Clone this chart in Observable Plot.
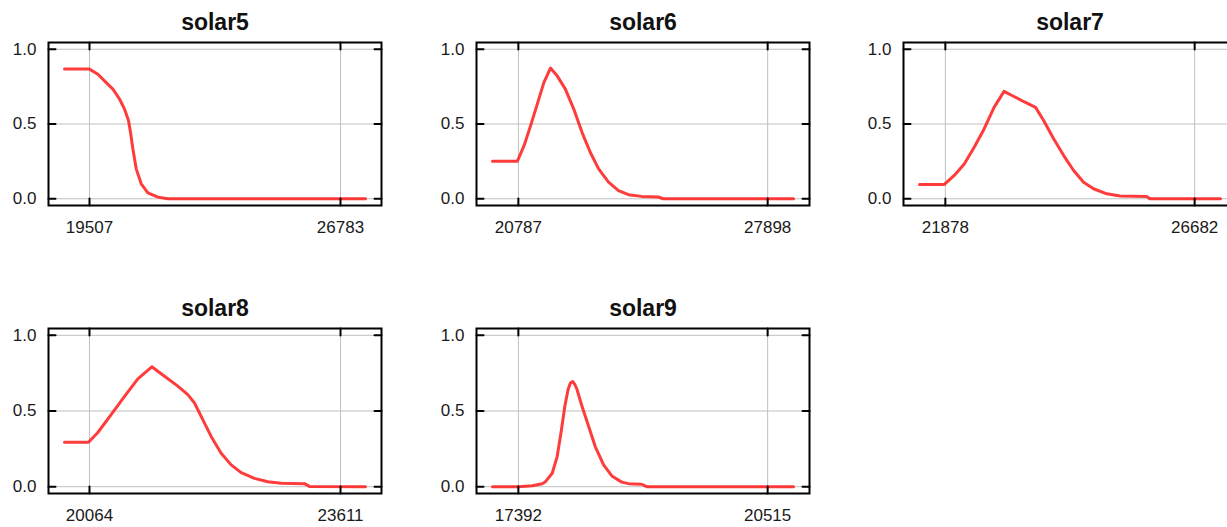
<!DOCTYPE html>
<html><head><meta charset="utf-8">
<script src="https://cdn.jsdelivr.net/npm/d3@7"></script>
<script src="https://cdn.jsdelivr.net/npm/@observablehq/plot@0.6"></script>
<style>
html,body{margin:0;padding:0;background:#fff;overflow:hidden;width:1227px;height:527px;}
#chart{position:relative;width:1227px;height:527px;overflow:hidden;}
#chart svg{position:absolute;}
</style></head><body><div id="chart"></div>
<script>
const names = ["solar5", "solar6", "solar7", "solar8", "solar9"];

const solar5X = [18782, 19507, 19750, 19991, 20185, 20377, 20522, 20638, 20696, 20765, 20861, 21006, 21200, 21490, 21780, 27508];
const solar5Y = [0.867, 0.867, 0.833, 0.777, 0.733, 0.667, 0.6, 0.522, 0.444, 0.333, 0.2, 0.1, 0.04, 0.011, 0.0, 0.0];

const solar6X = [20049, 20759, 20949, 21136, 21326, 21516, 21703, 21893, 22128, 22367, 22602, 22837, 23076, 23359, 23643, 23926, 24303, 24777, 24919, 28635];
const solar6Y = [0.251, 0.251, 0.355, 0.489, 0.633, 0.778, 0.874, 0.822, 0.733, 0.6, 0.444, 0.311, 0.2, 0.111, 0.055, 0.027, 0.016, 0.012, 0.0, 0.0];

const solar7X = [21380, 21859, 22050, 22242, 22434, 22625, 22817, 23009, 23200, 23392, 23616, 23775, 23967, 24159, 24350, 24542, 24734, 24989, 25245, 25756, 25819, 27180];
const solar7Y = [0.096, 0.096, 0.156, 0.233, 0.344, 0.467, 0.611, 0.718, 0.684, 0.649, 0.611, 0.522, 0.4, 0.289, 0.189, 0.111, 0.067, 0.033, 0.018, 0.016, 0.0, 0.0];

const solar8X = [19711, 20050, 20182, 20370, 20559, 20747, 20945, 21124, 21312, 21453, 21548, 21642, 21783, 21924, 22066, 22207, 22395, 22584, 22772, 23102, 23173, 23964];
const solar8Y = [0.294, 0.294, 0.358, 0.476, 0.597, 0.712, 0.792, 0.730, 0.664, 0.608, 0.553, 0.465, 0.332, 0.221, 0.144, 0.093, 0.055, 0.033, 0.022, 0.020, 0.002, 0.0];

const solar9X = [17068, 17392, 17566, 17691, 17732, 17816, 17878, 17932, 17974, 18015, 18044, 18073, 18100, 18127, 18189, 18273, 18355, 18460, 18563, 18688, 18771, 18937, 19000, 20839];
const solar9Y = [0.0, 0.0, 0.006, 0.02, 0.033, 0.089, 0.199, 0.376, 0.531, 0.642, 0.685, 0.695, 0.675, 0.642, 0.531, 0.398, 0.265, 0.144, 0.071, 0.03, 0.02, 0.016, 0.0, 0.0];

const xTickValues = [[19507, 26783], [20787, 27898], [21878, 26682], [20064, 23611], [17392, 20515]];
const yTickValues = [0, 0.5, 1.0];

const seriesX = [solar5X, solar6X, solar7X, solar8X, solar9X];
const seriesY = [solar5Y, solar6Y, solar7Y, solar8Y, solar9Y];

const lefts = [0, 428, 855, 0, 428];
const tops = [0, 0, 0, 286, 286];
const innerH = [163, 163, 163, 165, 165];

const tickShape = {draw(context, l) { context.moveTo(0, 0); context.lineTo(0, -l); }};
const container = document.getElementById("chart");

names.forEach((name, i) => {
  const data = seriesX[i].map((x, j) => ({x, y: seriesY[i][j]}));
  const xt = xTickValues[i];
  const mt = 42, mb = (i < 3 ? 45 : 40);
  const svg = Plot.plot({
    width: 420,
    height: mt + innerH[i] + mb,
    marginLeft: 48,
    marginRight: 39,
    marginTop: mt,
    marginBottom: mb,
    style: {fontFamily: "'Liberation Sans', Arial, sans-serif", fontSize: "17px", color: "#1a1a1a", background: "transparent"},
    x: {domain: d3.extent(seriesX[i]), inset: 16},
    y: {domain: [-0.045, 1.045]},
    marks: [
      Plot.gridX(xt, {stroke: "#c0c0c0", strokeOpacity: 1, strokeWidth: 1}),
      Plot.gridY(yTickValues, {stroke: "#c0c0c0", strokeOpacity: 1, strokeWidth: 1}),
      Plot.line(data, {x: "x", y: "y", stroke: "#ff1a1a", strokeOpacity: 0.85, strokeWidth: 3, strokeLinejoin: "round"}),
      Plot.frame({stroke: "#000", strokeWidth: 2}),
      Plot.vector(xt, {x: d => d, frameAnchor: "bottom", rotate: 0, length: 7, anchor: "start", shape: tickShape, stroke: "#000", strokeWidth: 2}),
      Plot.vector(xt, {x: d => d, frameAnchor: "top", rotate: 180, length: 7, anchor: "start", shape: tickShape, stroke: "#000", strokeWidth: 2}),
      Plot.vector(yTickValues, {y: d => d, frameAnchor: "left", rotate: 90, length: 7, anchor: "start", shape: tickShape, stroke: "#000", strokeWidth: 2}),
      Plot.vector(yTickValues, {y: d => d, frameAnchor: "right", rotate: -90, length: 7, anchor: "start", shape: tickShape, stroke: "#000", strokeWidth: 2}),
      Plot.axisX(xt, {anchor: "bottom", tickSize: 0, tickPadding: 15, label: null, tickFormat: d3.format("d")}),
      Plot.axisY(yTickValues, {anchor: "left", tickSize: 0, tickPadding: 12, label: null, tickFormat: d3.format(".1f")}),
      Plot.text([name], {frameAnchor: "top", lineAnchor: "middle", dy: -20, text: d => d, fontSize: 23, fontWeight: "bold", fill: "#111"})
    ]
  });
  svg.style.left = lefts[i] + "px";
  svg.style.top = tops[i] + "px";
  container.appendChild(svg);
});
</script>
</body></html>
